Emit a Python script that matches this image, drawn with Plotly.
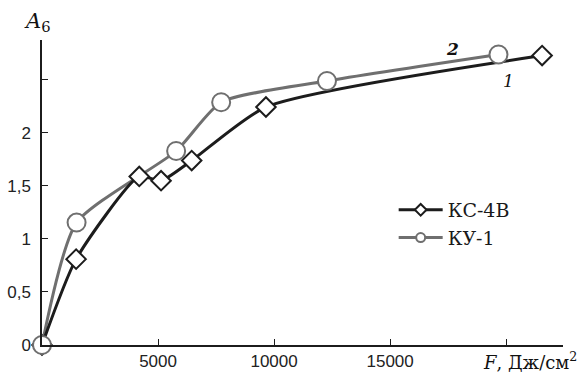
import plotly.graph_objects as go

# Data
ks_x = [0, 1470, 4190, 5130, 6450, 9650, 21550]
ks_y = [0, 0.81, 1.59, 1.55, 1.74, 2.245, 2.73]
ku_x = [0, 1490, 5780, 7720, 12280, 19670]
ku_y = [0, 1.155, 1.83, 2.29, 2.49, 2.74]

x_ticks = [5000, 10000, 15000, 20000]
x_labels = ["5000", "10000", "15000", ""]
y_ticks = [0, 0.5, 1, 1.5, 2, 2.5]
y_labels = ["0", "0,5", "1", "1,5", "2", ""]

BLACK = "#1c1c1c"
GRAY = "#6f6f6f"

fig = go.Figure()
fig.add_trace(go.Scatter(
    x=ku_x, y=ku_y, mode="lines", showlegend=False,
    line=dict(color=GRAY, width=3, shape="spline", smoothing=0.6)))
fig.add_trace(go.Scatter(
    x=ks_x, y=ks_y, mode="lines", showlegend=False,
    line=dict(color=BLACK, width=3, shape="spline", smoothing=0.6)))
fig.add_trace(go.Scatter(
    x=ks_x, y=ks_y, mode="markers", showlegend=False,
    marker=dict(symbol="diamond", size=15, color="white", line=dict(color=BLACK, width=2)),
    cliponaxis=False))
fig.add_trace(go.Scatter(
    x=ku_x, y=ku_y, mode="markers", showlegend=False,
    marker=dict(symbol="circle", size=18, color="white", line=dict(color=GRAY, width=2)),
    cliponaxis=False))
# legend entries
fig.add_trace(go.Scatter(
    x=[None], y=[None], mode="lines+markers", name="КС-4В",
    line=dict(color=BLACK, width=3),
    marker=dict(symbol="diamond", size=9, color="white", line=dict(color=BLACK, width=2))))
fig.add_trace(go.Scatter(
    x=[None], y=[None], mode="lines+markers", name="КУ-1",
    line=dict(color=GRAY, width=3),
    marker=dict(symbol="circle", size=9, color="white", line=dict(color=GRAY, width=2))))

tickfont = dict(family="Liberation Sans, Arial", size=17, color="#222")
fig.update_layout(
    width=579, height=376,
    margin=dict(l=42, r=16, t=40, b=31, autoexpand=False),
    paper_bgcolor="white", plot_bgcolor="white",
    showlegend=True,
    legend=dict(x=0.675, y=0.505, xanchor="left", yanchor="top",
                font=dict(family="DejaVu Serif", size=19, color="#1a1a1a"),
                itemwidth=44, tracegroupgap=0, bgcolor="rgba(0,0,0,0)"),
    xaxis=dict(range=[0, 22450], tickvals=x_ticks, ticktext=x_labels,
               showgrid=False, zeroline=False, showline=True, linecolor=BLACK,
               linewidth=1.5, ticks="inside", ticklen=6, tickcolor=BLACK,
               tickfont=tickfont, automargin=False),
    yaxis=dict(range=[0, 2.877], tickvals=y_ticks, ticktext=y_labels,
               showgrid=False, zeroline=False, showline=True, linecolor=BLACK,
               linewidth=1.5, ticks="inside", ticklen=6, tickcolor=BLACK,
               tickfont=tickfont, ticklabelstandoff=6, automargin=False),
)
serif = "DejaVu Serif"
fig.add_annotation(xref="paper", yref="paper", x=-0.008, y=1.0, xanchor="center", yanchor="bottom",
                   text="<i>A</i><sub>6</sub>", showarrow=False, yshift=3,
                   font=dict(family=serif, size=21, color="#111"))
fig.add_annotation(xref="paper", yref="paper", x=1.03, y=0, xanchor="right", yanchor="top",
                   text="<i>F</i>, Дж/см<sup>2</sup>", showarrow=False, yshift=-2,
                   font=dict(family=serif, size=18, color="#111"))
fig.add_annotation(x=17670, y=2.79, text="<i><b>2</b></i>", showarrow=False,
                   font=dict(family=serif, size=17, color="#111"))
fig.add_annotation(x=20090, y=2.49, text="<i>1</i>", showarrow=False,
                   font=dict(family=serif, size=17, color="#111"))

fig.write_html("out.html")
